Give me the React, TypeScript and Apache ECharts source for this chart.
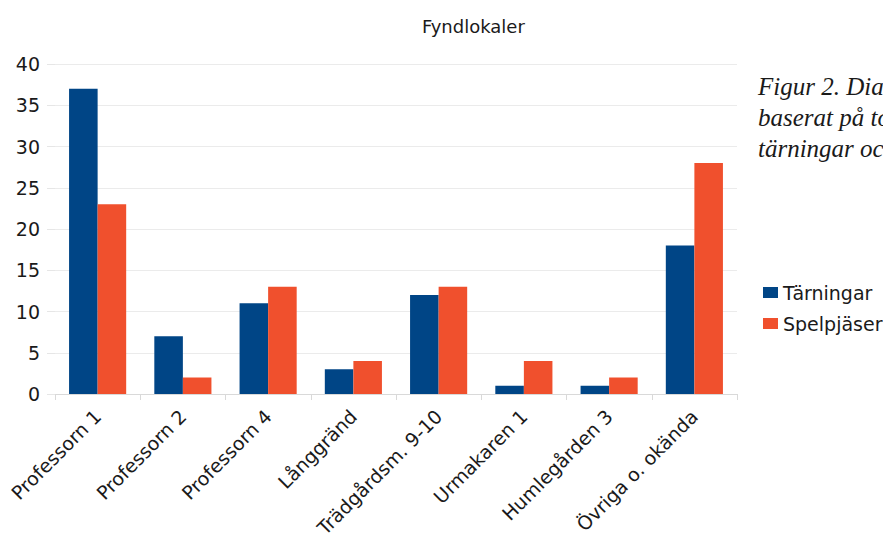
import React, { useEffect, useRef } from "react";
import * as echarts from "echarts";

const categories = [
  "Professorn 1",
  "Professorn 2",
  "Professorn 4",
  "Långgränd",
  "Trädgårdsm. 9-10",
  "Urmakaren 1",
  "Humlegården 3",
  "Övriga o. okända",
];
const tarningar = [37, 7, 11, 3, 12, 1, 1, 18];
const spelpjaser = [23, 2, 13, 4, 13, 4, 2, 28];
const seriesNames = ["Tärningar", "Spelpjäser"];
const titleText = "Fyndlokaler";
const captionLines = ["Figur 2. Diagram", "baserat på totalt", "tärningar och"];

const FONT = "DejaVu Sans";

export default function App() {
  const ref = useRef<HTMLDivElement>(null);
  useEffect(() => {
    if (!ref.current) return;
    const chart = echarts.init(ref.current, undefined, { renderer: "svg" });
    chart.setOption({
      animation: false,
      backgroundColor: "#ffffff",
      title: {
        text: titleText,
        left: 417,
        top: 12,
        textStyle: { fontFamily: FONT, fontSize: 18, fontWeight: "normal", color: "#1a1a1a" },
      },
      legend: {
        orient: "vertical",
        left: 758,
        top: 278,
        icon: "rect",
        itemWidth: 15,
        itemHeight: 11,
        itemGap: 12,
        textStyle: { fontFamily: FONT, fontSize: 19, color: "#1a1a1a" },
        data: seriesNames,
      },
      grid: { left: 55, right: 146, top: 64, bottom: 139, outerBoundsMode: "none" },
      xAxis: {
        type: "category",
        data: categories,
        axisLine: { lineStyle: { color: "#d9d9d9" } },
        axisTick: { show: true, length: 6, lineStyle: { color: "#d9d9d9" } },
        axisLabel: {
          rotate: 45,
          interval: 0,
          margin: 19,
          fontFamily: FONT,
          fontSize: 19,
          color: "#1a1a1a",
        },
      },
      yAxis: {
        type: "value",
        min: 0,
        max: 40,
        interval: 5,
        axisLine: { show: false },
        axisTick: { show: true, length: 8, lineStyle: { color: "#e6e6e6" } },
        splitLine: { lineStyle: { color: "#ebebeb" } },
        axisLabel: { margin: 15, fontFamily: FONT, fontSize: 19, color: "#1a1a1a" },
      },
      series: [
        {
          name: seriesNames[0],
          type: "bar",
          data: tarningar,
          barGap: "0%",
          barCategoryGap: "33%",
          itemStyle: { color: "#004586" },
        },
        {
          name: seriesNames[1],
          type: "bar",
          data: spelpjaser,
          barGap: "0%",
          barCategoryGap: "33%",
          itemStyle: { color: "#f0502d" },
        },
      ],
      graphic: [
        {
          type: "text",
          left: 758,
          top: 71,
          style: {
            text: captionLines.join("\n"),
            font: "italic 25px 'Liberation Serif'",
            lineHeight: 31,
            fill: "#1a1a1a",
          },
        },
      ],
    });
    return () => chart.dispose();
  }, []);
  return (
    <div
      ref={ref}
      style={{ position: "fixed", left: 0, top: 0, width: 883, height: 533 }}
    />
  );
}
